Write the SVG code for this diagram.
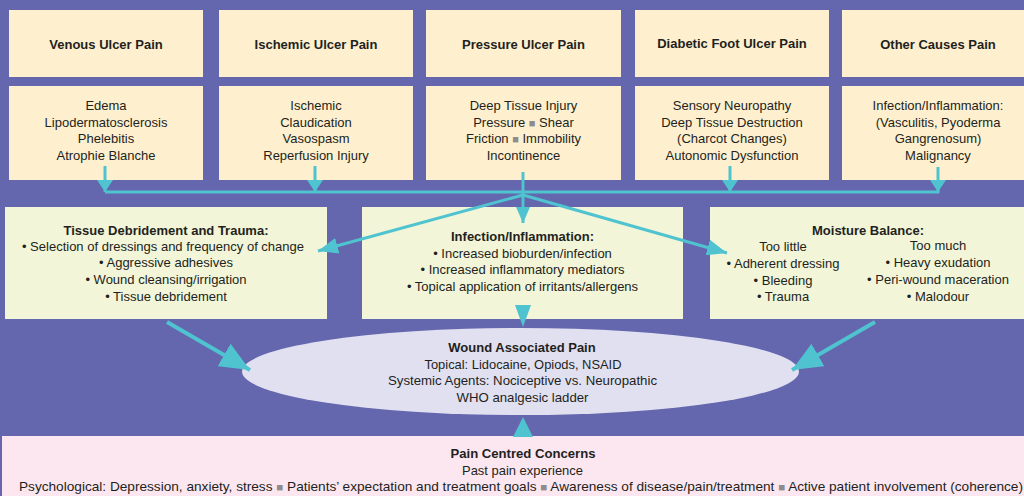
<svg xmlns="http://www.w3.org/2000/svg" width="1024" height="496" viewBox="0 0 1024 496">
<style>
.bg{fill:#6466AE}
.hd{fill:#FEF0CF}
.mid{fill:#F2F5D8}
.t{font-family:"Liberation Sans",Arial,sans-serif;font-size:13px;fill:#231F20;text-anchor:middle}
.b{font-weight:bold}
.sq{fill:#8C8C8C;font-size:11px}
.c{stroke:#4FC3CF;stroke-width:3;fill:none}
.cw{stroke:#4FC3CF;stroke-width:4;fill:none}
.ah{fill:#4FC3CF}
</style>
<defs>
<marker id="a1" markerUnits="userSpaceOnUse" viewBox="0 0 12 16" markerWidth="12" markerHeight="16" refX="12" refY="8" orient="auto"><path class="ah" d="M0,0 L12,8 L0,16 z"/></marker>
<marker id="a2" markerUnits="userSpaceOnUse" viewBox="0 0 16 14" markerWidth="16" markerHeight="14" refX="16" refY="7" orient="auto"><path class="ah" d="M0,0 L16,7 L0,14 z"/></marker>
<marker id="a3" markerUnits="userSpaceOnUse" viewBox="0 0 20 16" markerWidth="20" markerHeight="16" refX="20" refY="8" orient="auto"><path class="ah" d="M0,0 L20,8 L0,16 z"/></marker>
<marker id="a4" markerUnits="userSpaceOnUse" viewBox="0 0 30 26" markerWidth="30" markerHeight="26" refX="30" refY="13" orient="auto"><path class="ah" d="M0,0 L30,13 L0,26 z"/></marker>
</defs>
<rect class="bg" x="0" y="0" width="1024" height="496"/>

<g id="venous">
<rect class="hd" x="9" y="10" width="194" height="67"/>
<rect class="hd" x="9" y="86" width="194" height="94"/>
<text class="t b" x="106" y="48.5">Venous Ulcer Pain</text>
<text class="t" x="106" y="110">Edema</text>
<text class="t" x="106" y="126.5">Lipodermatosclerosis</text>
<text class="t" x="106" y="143">Phelebitis</text>
<text class="t" x="106" y="159.5">Atrophie Blanche</text>
</g>

<g id="ischemic">
<rect class="hd" x="219" y="10" width="194" height="67"/>
<rect class="hd" x="219" y="86" width="194" height="94"/>
<text class="t b" x="316" y="48.5">Ischemic Ulcer Pain</text>
<text class="t" x="316" y="110">Ischemic</text>
<text class="t" x="316" y="126.5">Claudication</text>
<text class="t" x="316" y="143">Vasospasm</text>
<text class="t" x="316" y="159.5">Reperfusion Injury</text>
</g>

<g id="pressure">
<rect class="hd" x="426" y="10" width="195" height="67"/>
<rect class="hd" x="426" y="86" width="195" height="94"/>
<text class="t b" x="523.5" y="48.5">Pressure Ulcer Pain</text>
<text class="t" x="523.5" y="109.5">Deep Tissue Injury</text>
<text class="t" x="523.5" y="126.5">Pressure <tspan class="sq">■</tspan> Shear</text>
<text class="t" x="523.5" y="143">Friction <tspan class="sq">■</tspan> Immobility</text>
<text class="t" x="523.5" y="159.5">Incontinence</text>
</g>

<g id="diabetic">
<rect class="hd" x="635" y="10" width="194" height="67"/>
<rect class="hd" x="635" y="86" width="194" height="94"/>
<text class="t b" x="732" y="48">Diabetic Foot Ulcer Pain</text>
<text class="t" x="732" y="110">Sensory Neuropathy</text>
<text class="t" x="732" y="126.5">Deep Tissue Destruction</text>
<text class="t" x="732" y="143">(Charcot Changes)</text>
<text class="t" x="732" y="159.5">Autonomic Dysfunction</text>
</g>

<g id="other">
<rect class="hd" x="842" y="10" width="194" height="67"/>
<rect class="hd" x="842" y="86" width="194" height="94"/>
<text class="t b" x="938" y="48.5">Other Causes Pain</text>
<text class="t" x="938" y="110">Infection/Inflammation:</text>
<text class="t" x="938" y="126.5">(Vasculitis,  Pyoderma</text>
<text class="t" x="938" y="143">Gangrenosum)</text>
<text class="t" x="938" y="159.5">Malignancy</text>
</g>

<g id="tissue">
<rect class="mid" x="5" y="207" width="322" height="112"/>
<text class="t b" x="166" y="234.5">Tissue Debridement and Trauma:</text>
<text class="t" x="163" y="251">• Selection of dressings and frequency of change</text>
<text class="t" x="166" y="267">• Aggressive adhesives</text>
<text class="t" x="166" y="283.5">• Wound cleansing/irrigation</text>
<text class="t" x="166" y="300.5">• Tissue debridement</text>
</g>

<g id="infection">
<rect class="mid" x="362" y="207" width="321" height="112"/>
<text class="t b" x="522.5" y="241">Infection/Inflammation:</text>
<text class="t" x="522.5" y="257.5">• Increased bioburden/infection</text>
<text class="t" x="522.5" y="274">• Increased inflammatory mediators</text>
<text class="t" x="522.5" y="290.5">• Topical application of irritants/allergens</text>
</g>

<g id="moisture">
<rect class="mid" x="710" y="207" width="320" height="112"/>
<text class="t b" x="868" y="234.5">Moisture Balance:</text>
<text class="t" x="783" y="251">Too little</text>
<text class="t" x="783" y="268">• Adherent dressing</text>
<text class="t" x="783" y="284.5">• Bleeding</text>
<text class="t" x="783" y="301">• Trauma</text>
<text class="t" x="938" y="249.5">Too much</text>
<text class="t" x="938" y="267">• Heavy exudation</text>
<text class="t" x="938" y="284">• Peri-wound maceration</text>
<text class="t" x="938" y="301">• Malodour</text>
</g>

<g id="pain">
<ellipse cx="520.5" cy="371.5" rx="278.5" ry="43.5" fill="#E1E0F1"/>
<text class="t b" x="522" y="351.5">Wound Associated Pain</text>
<text class="t" x="523" y="368.5" textLength="197" lengthAdjust="spacingAndGlyphs">Topical: Lidocaine, Opiods, NSAID</text>
<text class="t" x="522.5" y="385" textLength="269" lengthAdjust="spacingAndGlyphs">Systemic Agents: Nociceptive vs. Neuropathic</text>
<text class="t" x="522.5" y="401.5" textLength="132" lengthAdjust="spacingAndGlyphs">WHO analgesic ladder</text>
</g>

<g id="concerns">
<rect x="2" y="436" width="1030" height="62" fill="#FCE7F1"/>
<text class="t b" x="523" y="458" textLength="145" lengthAdjust="spacingAndGlyphs">Pain Centred Concerns</text>
<text class="t" x="522.5" y="474.5" textLength="121" lengthAdjust="spacingAndGlyphs">Past pain experience</text>
<text class="t" x="521" y="491" textLength="1004" lengthAdjust="spacingAndGlyphs">Psychological: Depression, anxiety, stress <tspan class="sq" font-size="9">■</tspan> Patients’ expectation and treatment goals <tspan class="sq" font-size="9">■</tspan> Awareness of disease/pain/treatment <tspan class="sq" font-size="9">■</tspan> Active patient involvement (coherence)</text>
</g>

<g id="connectors">
<line class="c" x1="105" y1="166" x2="105" y2="192" marker-end="url(#a1)"/>
<line class="c" x1="315" y1="166" x2="315" y2="192" marker-end="url(#a1)"/>
<line class="c" x1="730" y1="166" x2="730" y2="192" marker-end="url(#a1)"/>
<line class="c" x1="938" y1="167" x2="938" y2="192" marker-end="url(#a1)"/>
<line class="c" x1="105" y1="192" x2="939.5" y2="192"/>
<line class="c" x1="523" y1="172" x2="523" y2="196"/>
<line class="c" x1="523" y1="195" x2="523" y2="223" marker-end="url(#a2)"/>
<line class="c" stroke-width="2.5" x1="523" y1="195" x2="318" y2="251" marker-end="url(#a3)"/>
<line class="c" stroke-width="2.5" x1="523" y1="195" x2="727" y2="253" marker-end="url(#a3)"/>
<line class="cw" x1="167" y1="322" x2="250" y2="370" marker-end="url(#a4)"/>
<line class="cw" x1="875" y1="322" x2="792" y2="370" marker-end="url(#a4)"/>
<path class="ah" d="M515,305 L531,305 L523,327 z"/>
<path class="ah" d="M513,437 L533,437 L523,417 z"/>
</g>
</svg>
